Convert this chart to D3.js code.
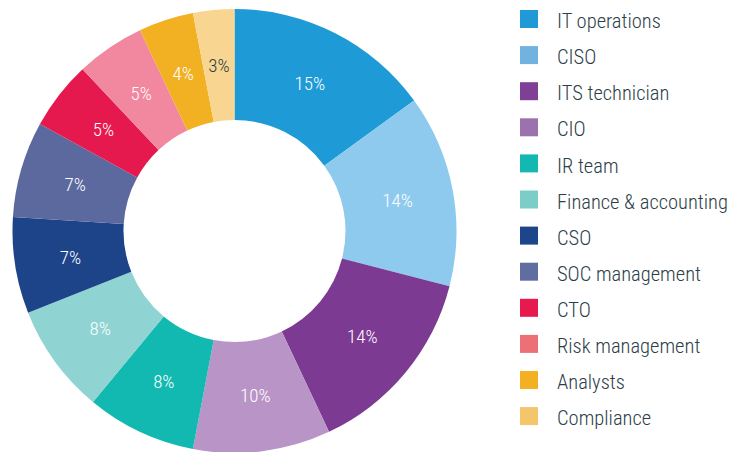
<!DOCTYPE html>
<html lang="en">
<head>
  <meta charset="UTF-8" />
  <title>Roles</title>
  <style>
    body { margin: 0; background: #fff; }
    svg { display: block; font-family: "Roboto Condensed", "Liberation Sans Narrow", "DejaVu Sans Condensed", sans-serif; font-weight: 300; }
  </style>
  <script src="https://d3js.org/d3.v7.min.js"></script>
</head>
<body>
<svg id="chart" width="746" height="452"></svg>
<script>
  const roles = ['IT operations', 'CISO', 'ITS technician', 'CIO', 'IR team', 'Finance & accounting',
    'CSO', 'SOC management', 'CTO', 'Risk management', 'Analysts', 'Compliance'];
  const shares = [15, 14, 14, 10, 8, 8, 7, 7, 5, 5, 4, 3];
  const sliceColors = ['#1e9ad6', '#8ecaee', '#7c3a93', '#b994c6', '#12b9b0', '#8fd4d2',
    '#1d4488', '#5c699f', '#e6194f', '#f287a0', '#f2b023', '#f8d692'];
  const legendColors = ['#1f9ad6', '#72b2e1', '#7e3f95', '#9b72ae', '#13b9b0', '#7ccdc7',
    '#1d4589', '#606da1', '#e71a4f', '#ee7077', '#f2b022', '#f5c56b'];

  const svg = d3.select('#chart');
  const cx = 234.5, cy = 231, outerR = 222, innerR = 111;

  const pie = d3.pie().sort(null).value(d => d);
  const arc = d3.arc().innerRadius(innerR).outerRadius(outerR);
  const labelArc = d3.arc().innerRadius(166).outerRadius(166);

  const g = svg.append('g').attr('transform', `translate(${cx},${cy})`);
  const arcs = pie(shares);

  g.selectAll('path')
    .data(arcs)
    .join('path')
    .attr('d', arc)
    .attr('fill', (d, i) => sliceColors[i]);

  g.selectAll('text')
    .data(arcs)
    .join('text')
    .attr('transform', d => `translate(${labelArc.centroid(d)})`)
    .attr('text-anchor', 'middle')
    .attr('dy', '0.35em')
    .attr('font-size', 19)
    .attr('fill', (d, i) => i === shares.length - 1 ? '#2b3a44' : '#fff')
    .text(d => d.data + '%');

  // legend
  const legend = svg.append('g').attr('transform', 'translate(520,10)');
  const row = legend.selectAll('g')
    .data(roles)
    .join('g')
    .attr('transform', (d, i) => `translate(0,${i * 36.1})`);

  row.append('rect')
    .attr('width', 18)
    .attr('height', 18)
    .attr('fill', (d, i) => legendColors[i]);

  row.append('text')
    .attr('x', 37)
    .attr('y', 11)
    .attr('dy', '0.35em')
    .attr('font-size', 20.5)
    .attr('fill', '#2d3e48')
    .text(d => d);
</script>
</body>
</html>
